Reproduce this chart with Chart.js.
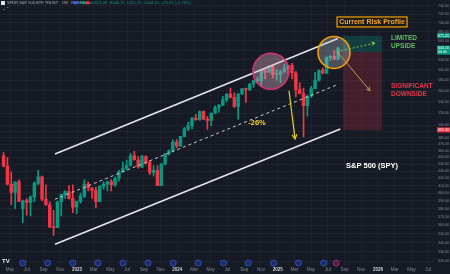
<!DOCTYPE html>
<html>
<head>
<meta charset="utf-8">
<script src="https://cdn.jsdelivr.net/npm/chart.js@4.4.1/dist/chart.umd.min.js"></script>
<style>
  html, body { margin: 0; padding: 0; background: #161a25; }
  #spy-chart { display: block; }
</style>
</head>
<body>
<canvas id="spy-chart" width="450" height="274"></canvas>
<script>
// SPY, two-week candles from Apr 2022 to Aug 2025
const firstCandle = "2022-04-04";
const candleDays = 14;

const opens = [452, 437, 412, 401, 415, 380, 391, 388, 395, 413, 422, 392, 385, 358, 357, 389, 398, 402, 393, 382,
  389, 396, 412, 407, 404, 389, 409, 412, 415, 411, 420, 429, 434, 438, 452, 446, 436, 451, 443, 428,
  431, 410, 440, 455, 460, 473, 467, 482, 494, 499, 512, 509, 523, 510, 508, 520, 530, 534, 544, 554,
  548, 532, 554, 564, 562, 572, 579, 579, 599, 595, 607, 591, 591, 597, 602, 609, 594, 562, 555, 533,
  550, 564, 580, 599, 594, 625, 627, 621];
const highs = [457, 450, 429, 415, 418, 391, 393, 396, 415, 431, 423, 411, 389, 378, 389, 399, 403, 410, 411, 390,
  400, 418, 415, 407, 408, 410, 415, 416, 418, 422, 431, 443, 446, 456, 459, 451, 453, 452, 445, 438,
  438, 441, 456, 461, 477, 477, 482, 496, 505, 513, 518, 524, 524, 515, 521, 533, 535, 550, 555, 565,
  556, 555, 564, 565, 574, 580, 586, 600, 601, 608, 608, 601, 599, 611, 609, 613, 597, 575, 565, 552,
  568, 595, 600, 604, 626, 629, 639, 646];
const lows = [436, 411, 385, 380, 389, 363, 372, 371, 389, 411, 390, 384, 357, 348, 357, 371, 393, 392, 375, 374,
  387, 394, 403, 393, 381, 389, 405, 403, 403, 409, 416, 429, 432, 437, 446, 434, 435, 440, 425, 423,
  410, 410, 439, 453, 458, 464, 466, 481, 491, 494, 508, 508, 509, 493, 499, 520, 522, 533, 540, 547,
  530, 510, 553, 539, 560, 566, 576, 568, 582, 594, 584, 580, 575, 594, 592, 582, 549, 554, 481, 515,
  548, 564, 578, 592, 592, 618, 620, 620];
const closes = [437, 412, 401, 415, 389, 390, 388, 395, 413, 422, 392, 385, 358, 357, 389, 398, 402, 393, 382, 389,
  396, 412, 407, 404, 389, 409, 412, 415, 411, 420, 429, 434, 438, 452, 446, 436, 451, 443, 428, 431,
  410, 440, 455, 460, 473, 467, 482, 494, 499, 512, 509, 523, 510, 508, 520, 530, 534, 544, 554, 548,
  532, 554, 564, 562, 572, 579, 579, 599, 595, 607, 591, 591, 597, 602, 609, 594, 562, 555, 533, 550,
  564, 580, 599, 594, 625, 627, 621, 644];

// time axis, in months counted from Jan 2022
const timeTickMonths = [4, 6, 8, 10, 12, 14, 16, 18, 20, 22, 24, 26, 28, 30, 32, 34, 36, 38, 40, 42, 44, 46, 48, 50, 52, 54];
const timeTickLabels = ["May", "Jul", "Sep", "Nov", "2023", "Mar", "May", "Jul", "Sep", "Nov", "2024", "Mar", "May",
  "Jul", "Sep", "Nov", "2025", "Mar", "May", "Jul", "Sep", "Nov", "2026", "Mar", "May", "Jul"];
const yearLabels = ["2023", "2024", "2025", "2026"];

// price axis ticks
const priceTicks = [320, 330, 340, 350, 360, 370, 380, 390, 400, 410, 420, 430, 440, 450, 460, 470, 480, 490, 500,
  520, 540, 560, 580, 600, 620, 640, 660, 680, 700, 720, 740];

// channel drawn on the chart: [month, price]
const upperChannel = [[9.37, 455], [43.2, 665]];
const midChannel = [[9.37, 392], [43.1, 571]];
const lowerChannel = [[9.37, 338], [43.5, 494]];

// dividend markers along the bottom
const dividendMonths = [5.5, 8.5, 11.5, 14.5, 17.5, 20.5, 23.5, 26.5, 29.5, 32.5, 35.5, 38.5, 41.5];
const otherEventMonths = [43.0];

// price tags on the right axis
const tagPrices = [671.2, 644.1, 492.3];

const DAY = 86400000;
const MONTH_DAYS = 30.4375;
const origin = Date.UTC(2022, 0, 1);
const start = Date.parse(firstCandle + "T00:00:00Z");
function candleMonth(i) {
  return (start + (i * candleDays + 5) * DAY - origin) / (MONTH_DAYS * DAY);
}

const upColor = "#089981";
const downColor = "#f23645";
const candleColor = (i) => (closes[i] >= opens[i] ? upColor : downColor);

Chart.defaults.font.family = "'Liberation Sans', Arial, sans-serif";

function drawArrow(ctx, x1, y1, x2, y2, color, width, dash, head) {
  ctx.save();
  ctx.strokeStyle = color;
  ctx.lineWidth = width;
  ctx.setLineDash(dash || []);
  ctx.beginPath();
  ctx.moveTo(x1, y1);
  ctx.lineTo(x2, y2);
  ctx.stroke();
  ctx.setLineDash([]);
  const a = Math.atan2(y2 - y1, x2 - x1);
  ctx.beginPath();
  ctx.moveTo(x2 - head * Math.cos(a - 0.5), y2 - head * Math.sin(a - 0.5));
  ctx.lineTo(x2, y2);
  ctx.lineTo(x2 - head * Math.cos(a + 0.5), y2 - head * Math.sin(a + 0.5));
  ctx.stroke();
  ctx.restore();
}

// annotations (circles, boxes, arrows, labels) placed in data space
const annotations = {
  id: "annotations",
  afterDatasetsDraw(chart) {
    const { ctx, scales: { x, y } } = chart;
    const px = (m) => x.getPixelForValue(m);
    const py = (p) => y.getPixelForValue(p);
    ctx.save();

    // risk boxes
    const bx1 = px(43.8), bx2 = px(48.5);
    ctx.fillStyle = "rgba(8, 153, 129, 0.28)";
    ctx.fillRect(bx1, py(671), bx2 - bx1, py(636) - py(671));
    ctx.fillStyle = "rgba(242, 54, 69, 0.2)";
    ctx.fillRect(bx1, py(636), bx2 - bx1, py(492) - py(636));

    // pink circle round the 2024-25 top
    ctx.beginPath();
    ctx.arc(px(35.2), py(597), 18, 0, Math.PI * 2);
    ctx.fillStyle = "rgba(225, 170, 195, 0.38)";
    ctx.fill();
    ctx.lineWidth = 1.6;
    ctx.strokeStyle = "#d6336c";
    ctx.stroke();

    // orange circle round the latest candles
    ctx.beginPath();
    ctx.arc(px(42.74), py(635), 16, 0, Math.PI * 2);
    ctx.fillStyle = "rgba(190, 195, 205, 0.32)";
    ctx.fill();
    ctx.strokeStyle = "#f59f00";
    ctx.stroke();

    // arrows
    drawArrow(ctx, px(43.1), py(637), px(47.65), py(655), "#8bc34a", 1, [2, 2], 4);
    drawArrow(ctx, px(43.1), py(637), px(47.05), py(560), "#c89a4a", 1, [], 4);
    drawArrow(ctx, px(37.36), py(560), px(38.08), py(478), "#e8d21d", 1.2, [], 5);

    // texts
    ctx.textBaseline = "middle";
    ctx.textAlign = "center";
    ctx.font = "bold 7.5px 'Liberation Sans', Arial, sans-serif";
    ctx.fillStyle = "#f2d22a";
    ctx.fillText("-26%", px(33.53), py(503));

    ctx.font = "bold 7.5px 'Liberation Sans', Arial, sans-serif";
    ctx.fillStyle = "#ffffff";
    ctx.fillText("S&P 500 (SPY)", px(47.29), py(438));

    // "Current Risk Profile" box
    const cx = px(47.29), cy = py(702);
    ctx.fillStyle = "#1c1c1c";
    ctx.fillRect(cx - 35, cy - 5, 70, 10);
    ctx.lineWidth = 1.2;
    ctx.strokeStyle = "#f59f00";
    ctx.strokeRect(cx - 35, cy - 5, 70, 10);
    ctx.font = "bold 7px 'Liberation Sans', Arial, sans-serif";
    ctx.fillStyle = "#f5a623";
    ctx.fillText("Current Risk Profile", cx, cy + 0.5);

    ctx.textAlign = "left";
    ctx.font = "bold 6.5px 'Liberation Sans', Arial, sans-serif";
    ctx.fillStyle = "#5cbf60";
    ctx.fillText("LIMITED", px(49.56), py(665));
    ctx.fillText("UPSIDE", px(49.56), py(648));
    ctx.fillStyle = "#e5364a";
    ctx.fillText("SIGNIFICANT", px(49.56), py(569));
    ctx.fillText("DOWNSIDE", px(49.56), py(553));
    ctx.restore();
  },
  afterDraw(chart) {
    const { ctx, chartArea, scales: { x, y } } = chart;
    ctx.save();

    // dividend / event markers
    const my = chartArea.bottom - 3;
    const marker = (m, fill, stroke) => {
      ctx.beginPath();
      ctx.arc(x.getPixelForValue(m), my, 3, 0, Math.PI * 2);
      ctx.fillStyle = fill;
      ctx.fill();
      ctx.lineWidth = 0.8;
      ctx.strokeStyle = stroke;
      ctx.stroke();
    };
    dividendMonths.forEach((m) => marker(m, "#1c2c63", "#2f5bd8"));
    otherEventMonths.forEach((m) => marker(m, "#4a1f4a", "#b0307a"));

    // right axis price tags
    ctx.textBaseline = "middle";
    ctx.textAlign = "left";
    ctx.font = "3.6px 'Liberation Sans', Arial, sans-serif";
    const tag = (p, color, rows) => {
      const ty = y.getPixelForValue(p);
      const h = rows.length * 4 + 1;
      ctx.fillStyle = color;
      ctx.fillRect(chartArea.right + 1, ty - 2.5, 13, h);
      ctx.fillStyle = "#ffffff";
      rows.forEach((t, k) => ctx.fillText(t, chartArea.right + 2, ty + k * 4));
    };
    tag(tagPrices[0], "#089981", [tagPrices[0].toFixed(2)]);
    tag(tagPrices[1], "#089981", [tagPrices[1].toFixed(2), "6d 4h"]);
    tag(tagPrices[2], "#f23645", [tagPrices[2].toFixed(2)]);

    // header line
    ctx.fillStyle = "#e0e3eb";
    ctx.fillRect(1, 1, 4, 4);
    ctx.font = "4px 'Liberation Sans', Arial, sans-serif";
    ctx.fillStyle = "#b2b5be";
    ctx.fillText("SPDR S&P 500 ETF TRUST · 1W · NYSE Arca", 7, 3.2);
    ctx.fillStyle = "#2962ff";
    ctx.fillRect(74, 1.2, 3, 3);
    ctx.fillStyle = "#089981";
    ctx.fillRect(82, 1.2, 3, 3);
    ctx.fillStyle = "#f23645";
    ctx.fillRect(86, 1.2, 3, 3);
    ctx.fillStyle = "#089981";
    ctx.fillText("O621.09  H646.19  L620.20  C644.10  +23.01 (+3.70%)", 92, 3.2);
    ctx.fillStyle = "#b2b5be";
    ctx.fillText("⌄ ⌃", 2, 8.5);

    // logo
    ctx.font = "bold 6px 'Liberation Sans', Arial, sans-serif";
    ctx.fillStyle = "#e0e3eb";
    ctx.fillText("TV", 2, chartArea.bottom - 5);
    ctx.restore();
  }
};

const lineSet = (pts, dash, width) => ({
  type: "line",
  data: pts.map(([m, p]) => ({ x: m, y: p })),
  borderColor: dash ? "#c9ccd3" : "#e4e6eb",
  borderWidth: width,
  borderDash: dash || [],
  pointRadius: 0,
  fill: false,
  tension: 0,
  order: 0
});

new Chart(document.getElementById("spy-chart"), {
  type: "bar",
  data: {
    datasets: [
      {
        label: "wicks",
        data: opens.map((o, i) => ({ x: candleMonth(i), y: [lows[i], highs[i]] })),
        backgroundColor: (c) => candleColor(c.dataIndex),
        barThickness: 1,
        grouped: false,
        order: 2
      },
      {
        label: "bodies",
        data: opens.map((o, i) => ({ x: candleMonth(i), y: [o, closes[i]] })),
        backgroundColor: (c) => candleColor(c.dataIndex),
        barThickness: 2.8,
        minBarLength: 1,
        grouped: false,
        order: 1
      },
      lineSet(upperChannel, null, 1.6),
      lineSet(midChannel, [3, 3], 1),
      lineSet(lowerChannel, null, 1.6)
    ]
  },
  options: {
    responsive: false,
    animation: false,
    layout: { padding: 0 },
    plugins: {
      legend: { display: false },
      tooltip: { enabled: false }
    },
    scales: {
      x: {
        type: "linear",
        min: 2.79,
        max: 54.94,
        offset: false,
        afterBuildTicks: (s) => { s.ticks = timeTickMonths.map((v) => ({ value: v })); },
        afterFit: (s) => { s.height = 8; },
        ticks: {
          autoSkip: false,
          maxRotation: 0,
          padding: 1,
          font: (c) => ({ size: 4.5, weight: yearLabels.includes(timeTickLabels[c.index]) ? "bold" : "normal" }),
          color: (c) => (yearLabels.includes(timeTickLabels[c.index]) ? "#d1d4dc" : "#868993"),
          callback: (v, i) => timeTickLabels[i]
        },
        grid: { color: "rgba(255, 255, 255, 0.035)", drawTicks: false, offset: false },
        border: { display: false }
      },
      y: {
        type: "logarithmic",
        position: "right",
        min: 314.8,
        max: 744.3,
        afterBuildTicks: (s) => { s.ticks = priceTicks.map((v) => ({ value: v })); },
        afterFit: (s) => { s.width = 14; },
        ticks: {
          padding: 2,
          font: { size: 3.6 },
          color: "#868993",
          callback: (v) => Number(v).toFixed(2)
        },
        grid: { color: "rgba(255, 255, 255, 0.035)", drawTicks: false },
        border: { display: false }
      }
    }
  },
  plugins: [annotations]
});
</script>
</body>
</html>
